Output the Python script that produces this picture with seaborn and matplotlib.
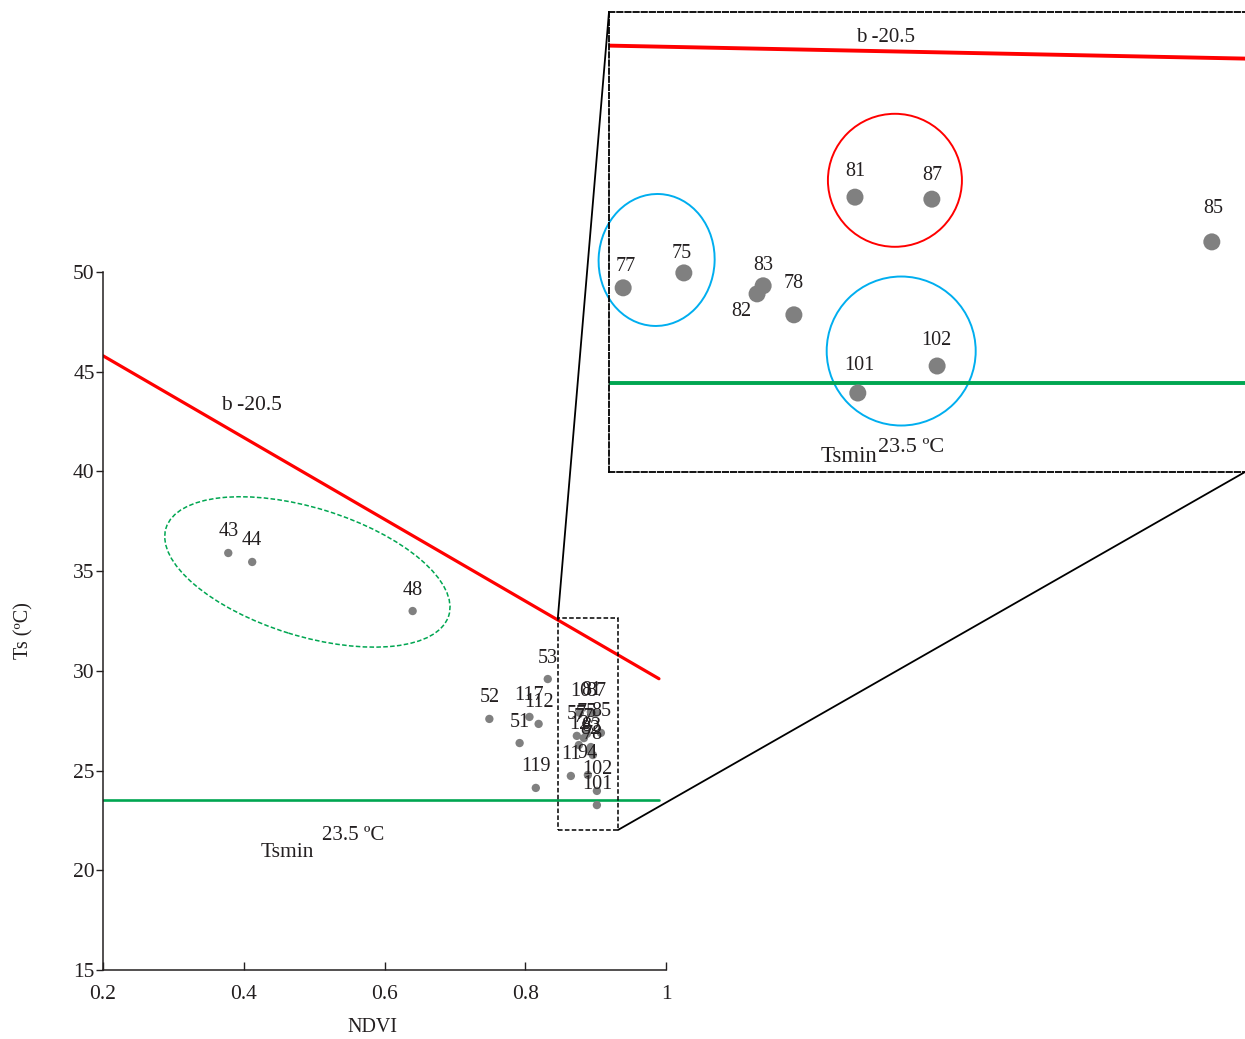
import matplotlib
matplotlib.use("Agg")
import matplotlib.pyplot as plt
import pandas as pd
import seaborn as sns
from matplotlib.patches import Ellipse, Rectangle, ConnectionPatch
from matplotlib.transforms import ScaledTranslation

# ---------------- data ----------------
# station id, NDVI and surface temperature (main panel)
station_ids = ["43", "44", "48", "53", "52", "117", "112", "51", "119",
               "10", "81", "87", "57", "75", "77", "85", "12", "83", "82",
               "78", "11", "94", "102", "101"]
ndvi = [0.378, 0.412, 0.640, 0.832, 0.749, 0.806, 0.819, 0.792, 0.815,
        0.8776, 0.8932, 0.9003, 0.8733, 0.8875, 0.8833, 0.9075, 0.8762,
        0.8932, 0.8918, 0.8961, 0.8648, 0.8890, 0.9018, 0.9018]
ts = [35.91, 35.46, 33.00, 29.59, 27.59, 27.69, 27.34, 26.38, 24.13,
      27.89, 27.94, 27.89, 26.74, 26.84, 26.63, 26.89, 26.28,
      26.18, 26.03, 25.78, 24.73, 24.78, 23.98, 23.27]

# enlarged view of the dense high-NDVI stations
inset_ids = ["77", "75", "83", "82", "78", "81", "87", "85", "101", "102"]
inset_ndvi = [0.88035, 0.88185, 0.88381, 0.88366, 0.88457,
              0.88608, 0.88798, 0.89490, 0.88615, 0.88811]
inset_ts = [25.85, 26.22, 25.90, 25.70, 25.18,
            28.10, 28.05, 26.99, 23.24, 23.91]

# dry edge (Ts = a + b * NDVI) and wet edge
dry_slope = -20.5
dry_intercept = 49.9
ts_min = 23.5
edge_ndvi = [0.2, 0.99]

x_ticks = [0.2, 0.4, 0.6, 0.8, 1.0]
x_tick_labels = ["0.2", "0.4", "0.6", "0.8", "1"]
y_ticks = [15, 20, 25, 30, 35, 40, 45, 50]

# ---------------- style ----------------
sns.set_theme(style="ticks")
plt.rcParams["font.family"] = ["Liberation Serif", "DejaVu Serif"]
plt.rcParams["text.color"] = "#231F20"

RED = "#FF0000"
GREEN = "#00A651"
BLUE = "#00AEEF"
GREY = "#808080"
INK = "#231F20"

W, H = 1245, 1039
fig = plt.figure(figsize=(W / 100, H / 100), dpi=100)


def px_box(left, top, right, bottom):
    return [left / W, 1 - bottom / H, (right - left) / W, (bottom - top) / H]


def ring(ax, center, w_px, h_px, angle=0.0, **kw):
    """Ellipse sized in pixels, centred on a data point."""
    tr = fig.dpi_scale_trans + ScaledTranslation(center[0], center[1], ax.transData)
    e = Ellipse((0, 0), w_px / fig.dpi, h_px / fig.dpi, angle=angle,
                transform=tr, fill=False, clip_on=False, **kw)
    ax.add_patch(e)


df = pd.DataFrame({"id": station_ids, "NDVI": ndvi, "Ts": ts})
dfi = pd.DataFrame({"id": inset_ids, "NDVI": inset_ndvi, "Ts": inset_ts})

# ---------------- main panel ----------------
ax = fig.add_axes(px_box(103, 272, 666, 970))
ax.set_xlim(0.2, 1.0)
ax.set_ylim(15, 50)

dry_ts = [dry_intercept + dry_slope * x for x in edge_ndvi]
ax.plot(edge_ndvi, dry_ts, color=RED, lw=2.3, zorder=2)
ax.plot(edge_ndvi, [ts_min, ts_min], color=GREEN, lw=1.9, zorder=2)

sns.scatterplot(data=df, x="NDVI", y="Ts", color=GREY, s=36,
                edgecolor="none", legend=False, ax=ax, zorder=3)
for sid, x, y in zip(df["id"], df["NDVI"], df["Ts"]):
    ax.annotate(sid, (x, y), xytext=(0, 21), textcoords="offset pixels",
                ha="center", va="center", fontsize=14.5, color=INK, zorder=4)

ax.text(0.368, 43.08, "b -20.5", fontsize=15.5, ha="left", va="baseline")
ax.text(0.4235, 20.67, "Tsmin", fontsize=15.5, ha="left", va="baseline")
ax.text(0.5117, 21.52, "23.5 ºC", fontsize=15, ha="left", va="baseline")

# dashed ring around the low-NDVI stations
ring(ax, (0.4904, 34.96), 296, 128, angle=-17.2, ec=GREEN, lw=1.1,
     ls=(0, (3, 1.5)))

# zoom window
zx0, zx1, zy0, zy1 = 0.8463, 0.9317, 22.02, 32.65
ax.add_patch(Rectangle((zx0, zy0), zx1 - zx0, zy1 - zy0, fill=False,
                       ec="black", lw=1.1, ls=(0, (3, 1.5)), zorder=5,
                       clip_on=False))

sns.despine(ax=ax)
ax.spines["left"].set_bounds(15, 50)
ax.spines["bottom"].set_bounds(0.2, 1.0)
for s in ("left", "bottom"):
    ax.spines[s].set_linewidth(1.1)
    ax.spines[s].set_color(INK)
ax.set_xticks(x_ticks)
ax.set_xticklabels(x_tick_labels)
ax.set_yticks(y_ticks)
ax.tick_params(axis="y", direction="out", length=5, width=1.0, pad=1,
               labelsize=15.5, colors=INK)
ax.tick_params(axis="x", direction="in", length=6, width=1.0, pad=11,
               labelsize=15.5, colors=INK)
ax.set_xlabel("NDVI", fontsize=14.5, color=INK)
ax.set_ylabel("Ts (ºC)", fontsize=14.5, color=INK)
ax.xaxis.set_label_coords(0.478, -0.069)
ax.yaxis.set_label_coords(-0.124, 0.487)
ax.set_facecolor("none")

# ---------------- enlarged panel ----------------
axi = fig.add_axes(px_box(609, 12, 1245, 472))
axi.set_xlim(0.880, 0.89572)
axi.set_ylim(21.28, 32.694)
axi.set_facecolor("white")

inset_edge = [0.880, 0.89572]
axi.plot(inset_edge, [dry_intercept + dry_slope * x for x in inset_edge],
         color=RED, lw=2.8, zorder=2)
axi.plot(inset_edge, [ts_min, ts_min], color=GREEN, lw=2.8, zorder=2)

sns.scatterplot(data=dfi, x="NDVI", y="Ts", color=GREY, s=150,
                edgecolor="none", legend=False, ax=axi, zorder=3)

label_shift = {"77": (3, 21), "75": (-2, 19), "83": (0, 20), "82": (-16, -18),
               "78": (0, 31), "81": (0, 26), "87": (0, 24), "85": (1, 33),
               "101": (2, 28), "102": (-1, 26)}
for sid, x, y in zip(dfi["id"], dfi["NDVI"], dfi["Ts"]):
    dx, dy = label_shift[sid]
    axi.annotate(sid, (x, y), xytext=(dx, dy), textcoords="offset pixels",
                 ha="center", va="center", fontsize=14.5, color=INK, zorder=4)

axi.text(0.88611, 31.95, "b -20.5", fontsize=15, ha="left", va="baseline")
axi.text(0.88524, 21.528, "Tsmin", fontsize=16.5, ha="left", va="baseline")
axi.text(0.88665, 21.776, "23.5 ºC", fontsize=16, ha="left", va="baseline")

ring(axi, (0.881177, 26.541), 116, 132, angle=-3, ec=BLUE, lw=1.4)
ring(axi, (0.887067, 28.518), 134, 133, ec=RED, lw=1.4)
ring(axi, (0.887222, 24.282), 149, 149, ec=BLUE, lw=1.4)

axi.set_xticks([])
axi.set_yticks([])
axi.set_xlabel("")
axi.set_ylabel("")
axi.spines["right"].set_visible(False)
for s in ("left", "top", "bottom"):
    axi.spines[s].set_linestyle((0, (3, 1.5)))
    axi.spines[s].set_linewidth(1.3)
    axi.spines[s].set_color("black")

# connector lines between the zoom window and the enlarged panel
for pa, pb in (((zx0, zy1), (0, 1)), ((zx1, zy0), (1, 0))):
    cp = ConnectionPatch(xyA=pa, coordsA=ax.transData, xyB=pb,
                         coordsB=axi.transAxes, color="black", lw=1.3)
    fig.add_artist(cp)

fig.savefig("out.png", dpi=100, facecolor="white")
